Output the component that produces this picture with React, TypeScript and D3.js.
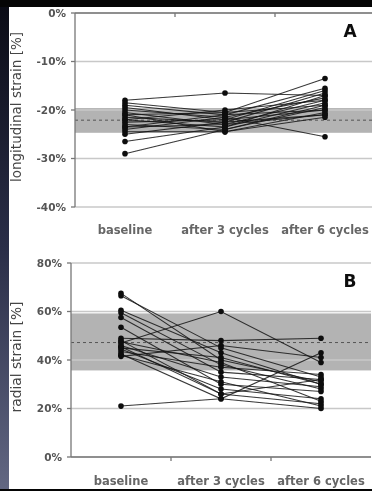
import React from 'react';
import * as d3 from 'd3';

const categories = ['baseline', 'after 3 cycles', 'after 6 cycles'];

// longitudinal strain [%] per subject: baseline, after 3, after 6 cycles
const longitudinal = [
  [-18.0, -16.5, -17.0],
  [-18.5, -20.5, -13.5],
  [-19.0, -21.0, -15.5],
  [-19.5, -22.0, -16.0],
  [-20.0, -21.5, -17.5],
  [-20.5, -23.0, -18.0],
  [-21.0, -20.5, -19.0],
  [-21.5, -22.5, -16.5],
  [-22.0, -23.5, -18.5],
  [-22.5, -22.0, -20.0],
  [-23.0, -24.0, -19.5],
  [-23.5, -23.0, -21.0],
  [-24.0, -21.5, -25.5],
  [-24.5, -24.5, -20.5],
  [-25.0, -22.5, -21.0],
  [-26.5, -23.5, -17.0],
  [-29.0, -24.0, -19.0],
  [-21.0, -24.5, -21.5],
  [-22.0, -20.0, -18.0],
  [-23.5, -21.0, -20.0],
];

// radial strain [%] per subject
const radial = [
  [67.5, 40, 31],
  [66.5, 45, 33],
  [60.5, 43, 30],
  [59.5, 38, 28],
  [57.5, 35, 32],
  [53.5, 30, 27],
  [49, 48, 49],
  [48, 26, 22],
  [47, 60, 39],
  [46, 33, 29],
  [45, 41, 30],
  [44.5, 28, 24],
  [43.5, 37, 34],
  [42.5, 24, 43],
  [42, 31, 21],
  [41.5, 46, 41],
  [21, 24, 20],
  [47.5, 39, 23],
  [45.5, 26, 32],
];

const longTicks = [0, -10, -20, -30, -40];
const radialTicks = [0, 20, 40, 60, 80];

// normal range band and mean line
const longBand = [-19.6, -24.7];
const longMean = -22.1;
const radialBand = [35.7, 59.2];
const radialMean = 47.2;

const font = '"DejaVu Sans", Verdana, sans-serif';

type PanelProps = {
  data: number[][];
  ticks: number[];
  domain: [number, number];
  yRange: [number, number];
  xRange: [number, number];
  axisY: number;
  band: number[];
  mean: number;
  letter: string;
  letterY: number;
  label: string;
  labelSize: number;
  labelY: number;
  catY: number;
};

const Panel = (p: PanelProps) => {
  const x = d3.scaleBand<string>().domain(categories).range(p.xRange).padding(0);
  const y = d3.scaleLinear().domain(p.domain).range(p.yRange);
  const cx = (i: number) => (x(categories[i]) as number) + x.bandwidth() / 2;
  const line = d3.line<number>().x((_, i) => cx(i)).y(d => y(d));
  const [x0, x1] = p.xRange;
  const bounds = categories.slice(1).map(c => x(c) as number);

  return (
    <g>
      {/* normal range band */}
      <rect
        x={x0}
        width={x1 - x0}
        y={Math.min(y(p.band[0]), y(p.band[1]))}
        height={Math.abs(y(p.band[0]) - y(p.band[1]))}
        fill="#b3b3b3"
      />
      {/* gridlines */}
      {p.ticks.map(t => (
        <line key={t} x1={x0} x2={x1} y1={y(t)} y2={y(t)} stroke="#c8c8c8" strokeWidth={1.6} />
      ))}
      <line x1={x0} x2={x1} y1={y(p.mean)} y2={y(p.mean)} stroke="#555" strokeWidth={1} strokeDasharray="3,3" />
      {/* x axis */}
      <line x1={x0} x2={x1} y1={p.axisY} y2={p.axisY} stroke="#777" strokeWidth={1.3} />
      {bounds.map(b => (
        <line key={b} x1={b} x2={b} y1={p.axisY} y2={p.axisY + 4} stroke="#777" strokeWidth={1.3} />
      ))}
      {/* y axis */}
      <line x1={x0} x2={x0} y1={p.yRange[0]} y2={p.yRange[1]} stroke="#777" strokeWidth={1.3} />
      {p.ticks.map(t => (
        <g key={'t' + t}>
          <line x1={x0 - 4} x2={x0} y1={y(t)} y2={y(t)} stroke="#777" strokeWidth={1.3} />
          <text x={x0 - 9} y={y(t)} dy="0.35em" textAnchor="end" fontFamily={font} fontWeight="bold" fontSize={10.5} fill="#555">
            {t + '%'}
          </text>
        </g>
      ))}
      {/* subjects */}
      {p.data.map((d, i) => (
        <path key={'l' + i} d={line(d) as string} fill="none" stroke="#151515" strokeWidth={1.05} strokeOpacity={0.85} />
      ))}
      {p.data.map((d, i) =>
        d.map((v, j) => <circle key={'c' + i + '-' + j} cx={cx(j)} cy={y(v)} r={2.8} fill="#0d0d0d" />)
      )}
      {/* category labels */}
      {categories.map((c, i) => (
        <text key={c} x={cx(i)} y={p.catY} textAnchor="middle" fontFamily={font} fontWeight="bold" fontSize={11.5} fill="#666">
          {c}
        </text>
      ))}
      <text x={350} y={p.letterY} textAnchor="middle" fontFamily={font} fontWeight="bold" fontSize={17} fill="#111">
        {p.letter}
      </text>
      <text
        transform={`translate(21, ${p.labelY}) rotate(-90)`}
        textAnchor="middle"
        fontFamily={font}
        fontSize={p.labelSize}
        fill="#444"
      >
        {p.label}
      </text>
    </g>
  );
};

export default function App() {
  return (
    <div style={{ position: 'fixed', left: 0, top: 0 }}>
      <svg width={372} height={491} style={{ display: 'block' }}>
        <defs>
          <linearGradient id="strip" x1="0" y1="0" x2="0" y2="1">
            <stop offset="0" stopColor="#0b0c16" />
            <stop offset="0.5" stopColor="#2a2e48" />
            <stop offset="1" stopColor="#626782" />
          </linearGradient>
          <filter id="soft">
            <feGaussianBlur stdDeviation="0.45" />
          </filter>
        </defs>
        <rect width={372} height={491} fill="#050505" />
        <rect x={0} y={7} width={9} height={482} fill="url(#strip)" />
        <rect x={9} y={7} width={363} height={482} fill="#fff" />
        <g filter="url(#soft)">
          <Panel
            data={longitudinal}
            ticks={longTicks}
            domain={[-40, 0]}
            yRange={[207, 13]}
            xRange={[75, 375]}
            axisY={13}
            band={longBand}
            mean={longMean}
            letter="A"
            letterY={37}
            label="longitudinal strain [%]"
            labelSize={13.5}
            labelY={107}
            catY={234}
          />
          <Panel
            data={radial}
            ticks={radialTicks}
            domain={[0, 80]}
            yRange={[457, 263]}
            xRange={[71, 371]}
            axisY={457}
            band={radialBand}
            mean={radialMean}
            letter="B"
            letterY={287}
            label="radial strain [%]"
            labelSize={13.8}
            labelY={357}
            catY={485}
          />
        </g>
      </svg>
    </div>
  );
}
